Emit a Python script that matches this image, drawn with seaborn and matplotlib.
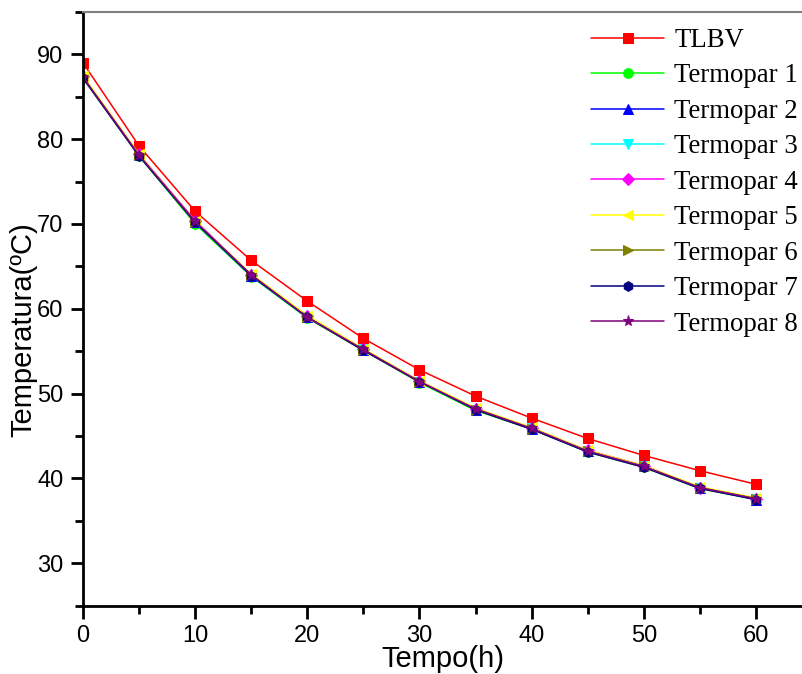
import pandas as pd
import seaborn as sns
import matplotlib.pyplot as plt

# Tempo (h)
tempo = [0, 5, 10, 15, 20, 25, 30, 35, 40, 45, 50, 55, 60]

# Temperatura (ºC) for each sensor
tlbv = [89.0, 79.2, 71.5, 65.7, 60.9, 56.5, 52.8, 49.7, 47.1, 44.7, 42.7, 40.9, 39.3]
termopar1 = [87.2, 78.0, 70.0, 63.8, 58.9, 55.1, 51.3, 48.0, 45.8, 43.1, 41.3, 38.8, 37.5]
termopar2 = [87.3, 78.1, 70.2, 63.9, 59.0, 55.1, 51.4, 48.1, 45.8, 43.2, 41.4, 38.9, 37.5]
termopar3 = [87.3, 78.1, 70.2, 63.9, 59.0, 55.2, 51.4, 48.1, 45.9, 43.2, 41.4, 38.9, 37.6]
termopar4 = [87.4, 78.2, 70.4, 64.0, 59.1, 55.2, 51.5, 48.2, 45.9, 43.3, 41.5, 38.9, 37.6]
termopar5 = [87.5, 78.2, 70.3, 64.1, 59.2, 55.3, 51.5, 48.3, 46.0, 43.3, 41.5, 39.0, 37.7]
termopar6 = [87.3, 78.1, 70.2, 64.0, 59.0, 55.1, 51.4, 48.1, 45.8, 43.2, 41.4, 38.9, 37.6]
termopar7 = [87.2, 78.0, 70.2, 63.9, 59.0, 55.1, 51.4, 48.1, 45.8, 43.1, 41.3, 38.8, 37.5]
termopar8 = [87.3, 78.1, 70.3, 64.0, 59.0, 55.2, 51.4, 48.2, 45.9, 43.2, 41.4, 38.9, 37.6]

series = {
    'TLBV': tlbv,
    'Termopar 1': termopar1,
    'Termopar 2': termopar2,
    'Termopar 3': termopar3,
    'Termopar 4': termopar4,
    'Termopar 5': termopar5,
    'Termopar 6': termopar6,
    'Termopar 7': termopar7,
    'Termopar 8': termopar8,
}
colors = ['#ff0000', '#00ff00', '#0000ff', '#00ffff', '#ff00ff',
          '#ffff00', '#808000', '#000080', '#800080']
markers = ['s', 'o', '^', 'v', 'D', '<', '>', 'h', '*']
sizes = [7, 7, 7, 7, 6, 7, 7, 7, 8]

sns.set_style('ticks')
plt.rcParams['text.color'] = 'black'
plt.rcParams['axes.labelcolor'] = 'black'
plt.rcParams['xtick.color'] = 'black'
plt.rcParams['ytick.color'] = 'black'

fig = plt.figure(figsize=(8.03, 6.74), dpi=100)
ax = fig.add_axes([83 / 803, 1 - 605.5 / 674, 720 / 803, 593.5 / 674])

for (name, vals), c, m, ms in zip(series.items(), colors, markers, sizes):
    df = pd.DataFrame({'Tempo': tempo, 'Temp': vals})
    sns.lineplot(data=df, x='Tempo', y='Temp', ax=ax, color=c, marker=m,
                 markersize=ms, markeredgecolor=c, linewidth=1.1, label=name)

ax.set_xlim(0, 64.2)
ax.set_ylim(25, 95)
ax.set_xticks(range(0, 61, 10))
ax.set_xticks(range(5, 61, 10), minor=True)
ax.set_yticks(range(30, 91, 10))
ax.set_yticks(range(25, 96, 10), minor=True)

for lab in ax.get_xticklabels() + ax.get_yticklabels():
    lab.set_fontfamily('Liberation Sans')
    lab.set_fontsize(17)
    lab.set_color('black')
ax.tick_params(which='major', direction='out', length=9, width=2, color='black', pad=5)
ax.tick_params(which='minor', direction='out', length=6, width=2, color='black')

ax.set_xlabel('Tempo(h)', fontsize=21, family='Liberation Sans', color='black', labelpad=-1.5)
ax.set_ylabel('Temperatura(ºC)', fontsize=21, family='Liberation Sans', color='black')
ax.yaxis.set_label_coords(-0.064, 0.464)

for side in ['left', 'bottom']:
    ax.spines[side].set_linewidth(2)
    ax.spines[side].set_color('black')
ax.spines['top'].set_visible(True)
ax.spines['top'].set_color('#808080')
ax.spines['top'].set_linewidth(1.5)
ax.spines['right'].set_visible(False)

ax.legend(loc='upper left', bbox_to_anchor=(0.706, 0.973), frameon=False,
          prop={'family': 'Liberation Serif', 'size': 19.3},
          handlelength=2.7, labelspacing=0.39, handletextpad=0.4,
          borderaxespad=0, borderpad=0)

plt.savefig('out.png', dpi=100)
